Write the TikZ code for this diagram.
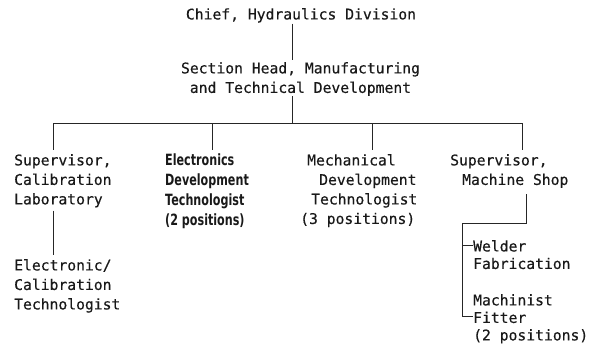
\documentclass[tikz,border=0pt]{standalone}
\usepackage{fontspec}
\setmonofont[FakeBold=0.4]{DejaVu Sans Mono}
\newfontfamily\condbold[FakeStretch=0.72]{DejaVu Sans}
\usetikzlibrary{positioning}

\tikzset{
  post/.style={inner sep=0pt, anchor=north west, align=left, text=black!90,
               font=\ttfamily\fontsize{14.7}{19.5}\selectfont},
  boldpost/.style={post, font=\condbold\bfseries\fontsize{15.5}{20}\selectfont},
  shoppost/.style={post, font=\ttfamily\fontsize{14.7}{17.5}\selectfont},
  wire/.style={line width=0.9pt, draw=black!85}
}

\begin{document}
\begin{tikzpicture}[x=1pt, y=-1pt]
  \useasboundingbox (0,0) rectangle (592,354);

  % top of the chart
  \node[post, anchor=north] (chief) at (301,8) {Chief, Hydraulics Division};
  \node[post, anchor=north, align=center] (head) at (300.5,62)
       {Section Head, Manufacturing\\and Technical Development};

  % second row
  \node[post] (calsup) at (14,154) {Supervisor,\\Calibration\\Laboratory};
  \node[boldpost] (eltech) at (165,154)
       {Electronics\\Development\\Technologist\\(2 positions)};
  \node[post] (mechtech) at (300,154)
       {\hspace*{7pt}Mechanical\\\hspace*{19pt}Development\\\hspace*{11pt}Technologist\\(3 positions)};
  \node[post] (shopsup) at (450,154) {Supervisor,\\\hspace*{12pt}Machine Shop};

  % third row
  \node[post] (caltech) at (14,259) {Electronic/\\Calibration\\Technologist};
  \node[shoppost] (welder) at (473,240) {Welder\\Fabrication};
  \node[shoppost] (fitter) at (473,294) {Machinist\\Fitter\\(2 positions)};

  % trunk and bus
  \coordinate (trunk) at (292,123);
  \coordinate (bus1) at (53,123);
  \coordinate (bus2) at (212,123);
  \coordinate (bus3) at (372,123);
  \coordinate (bus4) at (522,123);
  \coordinate (shopknee) at (526,223);
  \coordinate (rail) at (462,223);

  \draw[wire, shorten <=1pt, shorten >=2pt] (chief.south -| trunk) -- (head.north -| trunk);
  \draw[wire] (head.south -| trunk) -- (trunk);
  \draw[wire] (bus1) -- (bus4);
  \draw[wire, shorten >=4pt] (bus1) -- (bus1 |- calsup.north);
  \draw[wire, shorten >=4pt] (bus2) -- (bus2 |- eltech.north);
  \draw[wire, shorten >=4pt] (bus3) -- (bus3 |- mechtech.north);
  \draw[wire, shorten >=4pt] (bus4) -- (bus4 |- shopsup.north);

  % under the calibration laboratory
  \draw[wire, shorten <=3pt, shorten >=4pt] (calsup.south -| bus1) -- (caltech.north -| bus1);

  % under the machine shop
  \draw[wire, shorten <=6pt] (shopsup.south -| shopknee) -- (shopknee) -- (rail)
       |- ([yshift=-22.5pt]fitter.north west);
  \draw[wire] ([yshift=-5.5pt]welder.north west) -| (rail);
\end{tikzpicture}
\end{document}
